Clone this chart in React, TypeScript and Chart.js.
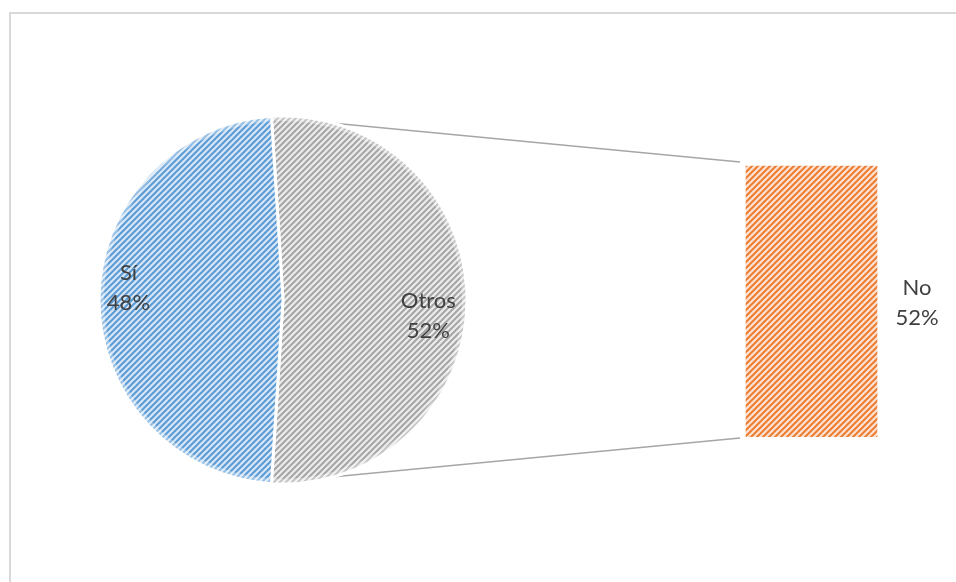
import React, { useEffect, useRef } from "react";
import { Chart, registerables } from "chart.js";

Chart.register(...registerables);

// ---- data ----
const pieLabels = ["Otros", "Sí"];
const pieValues = [52, 48];
const barLabels = ["No"];
const barValues = [52];

const FONT = "Lato, 'Open Sans', sans-serif";
const TEXT = "#404040";

function makePattern(bg: string, fg: string) {
  const size = 6;
  const c = document.createElement("canvas");
  c.width = size;
  c.height = size;
  const ctx = c.getContext("2d")!;
  ctx.fillStyle = bg;
  ctx.fillRect(0, 0, size, size);
  ctx.strokeStyle = fg;
  ctx.lineWidth = 2;
  ctx.beginPath();
  ctx.moveTo(-1, size + 1);
  ctx.lineTo(size + 1, -1);
  ctx.moveTo(-1, 1);
  ctx.lineTo(1, -1);
  ctx.moveTo(size - 1, size + 1);
  ctx.lineTo(size + 1, size - 1);
  ctx.stroke();
  return ctx.createPattern(c, "repeat")!;
}

function pct(v: number, total: number) {
  return Math.round((v / total) * 100) + "%";
}

export default function App() {
  const pieRef = useRef<HTMLCanvasElement>(null);
  const barRef = useRef<HTMLCanvasElement>(null);

  useEffect(() => {
    const W = 956;
    const H = 582;
    const pieTotal = pieValues.reduce((a, b) => a + b, 0);
    const barTotal = barValues.reduce((a, b) => a + b, 0);

    const greyPat = makePattern("#ececec", "#a5a5a5");
    const bluePat = makePattern("#d6e6f6", "#5b9bd5");
    const orangePat = makePattern("#fbe2d2", "#ed7d31");

    // Bar (second plot of the pie-of-bar)
    const barChart = new Chart(barRef.current!, {
      type: "bar",
      data: {
        labels: barLabels,
        datasets: [
          {
            data: barValues,
            backgroundColor: orangePat,
            borderColor: "rgba(255,255,255,0.4)",
            borderWidth: 2,
            barPercentage: 1,
            categoryPercentage: 1,
          },
        ],
      },
      options: {
        responsive: false,
        animation: false,
        events: [],
        layout: { padding: { left: 744, right: W - 879, top: 164, bottom: H - 437 } },
        plugins: { legend: { display: false }, tooltip: { enabled: false } },
        scales: {
          x: { display: false },
          y: { display: false, min: 0, max: barTotal, stacked: true },
        },
      },
      plugins: [
        {
          id: "barLabels",
          afterDatasetsDraw(chart: any) {
            const ctx = chart.ctx;
            const meta = chart.getDatasetMeta(0);
            meta.data.forEach((el: any, i: number) => {
              const x = el.x + el.width / 2 + 38;
              const y = (el.y + el.base) / 2 + 2;
              ctx.save();
              ctx.fillStyle = TEXT;
              ctx.font = `22px ${FONT}`;
              ctx.textAlign = "center";
              ctx.textBaseline = "middle";
              ctx.fillText(barLabels[i], x, y - 15);
              ctx.fillText(pct(barValues[i], pieTotal), x, y + 15);
              ctx.restore();
            });
          },
        },
      ],
    });

    const rotation = -((pieValues[0] / pieTotal) * 360 - 180) / 2;

    const pieChart = new Chart(pieRef.current!, {
      type: "pie",
      data: {
        labels: pieLabels,
        datasets: [
          {
            data: pieValues,
            backgroundColor: [greyPat, bluePat],
            borderColor: "#ffffff",
            borderWidth: 3,
          },
        ],
      },
      options: {
        responsive: false,
        animation: false,
        events: [],
        rotation,
        radius: 184,
        layout: { padding: { left: 101, right: W - 465, top: 118, bottom: H - 482 } },
        plugins: { legend: { display: false }, tooltip: { enabled: false } },
      },
      plugins: [
        {
          id: "seriesLines",
          beforeDatasetsDraw(chart: any) {
            const ctx = chart.ctx;
            const arc: any = chart.getDatasetMeta(0).data[0];
            const bar: any = barChart.getDatasetMeta(0).data[0];
            const left = bar.x - bar.width / 2 - 4;
            const top = Math.min(bar.y, bar.base) - 2;
            const bottom = Math.max(bar.y, bar.base) + 1;
            const r = arc.outerRadius - 1;
            const p1 = { x: arc.x + r * Math.cos(arc.startAngle), y: arc.y + r * Math.sin(arc.startAngle) };
            const p2 = { x: arc.x + r * Math.cos(arc.endAngle), y: arc.y + r * Math.sin(arc.endAngle) };
            ctx.save();
            ctx.strokeStyle = "#a6a6a6";
            ctx.lineWidth = 1.5;
            ctx.beginPath();
            ctx.moveTo(p1.x, p1.y);
            ctx.lineTo(left, top);
            ctx.moveTo(p2.x, p2.y);
            ctx.lineTo(left, bottom);
            ctx.stroke();
            ctx.restore();
          },
          afterDatasetsDraw(chart: any) {
            const ctx = chart.ctx;
            const meta = chart.getDatasetMeta(0);
            const a0: any = meta.data[0];
            // soft edge
            ctx.save();
            ctx.strokeStyle = "rgba(255,255,255,0.35)";
            ctx.lineWidth = 4;
            ctx.beginPath();
            ctx.arc(a0.x, a0.y, a0.outerRadius - 3, 0, Math.PI * 2);
            ctx.stroke();
            ctx.restore();
            const fracs = [0.79, 0.84];
            const dy = [16, -12];
            meta.data.forEach((el: any, i: number) => {
              const mid = (el.startAngle + el.endAngle) / 2;
              const x = el.x + Math.cos(mid) * el.outerRadius * fracs[i];
              const y = el.y + Math.sin(mid) * el.outerRadius * fracs[i] + dy[i];
              ctx.save();
              ctx.fillStyle = TEXT;
              ctx.font = `22px ${FONT}`;
              ctx.textAlign = "center";
              ctx.textBaseline = "middle";
              ctx.fillText(pieLabels[i], x, y - 15);
              ctx.fillText(pct(pieValues[i], pieTotal), x, y + 15);
              ctx.restore();
            });
          },
        },
      ],
    });

    return () => {
      pieChart.destroy();
      barChart.destroy();
    };
  }, []);

  return (
    <div style={{ position: "fixed", left: 0, top: 0, width: 956, height: 582, background: "#fff", overflow: "hidden" }}>
      <div
        style={{
          position: "absolute",
          left: 9,
          top: 12,
          width: 1200,
          height: 1200,
          borderLeft: "2px solid #d9d9d9",
          borderTop: "2px solid #d9d9d9",
        }}
      />
      <canvas ref={pieRef} width={956} height={582} style={{ position: "absolute", left: 0, top: 0 }} />
      <canvas ref={barRef} width={956} height={582} style={{ position: "absolute", left: 0, top: 0 }} />
    </div>
  );
}
